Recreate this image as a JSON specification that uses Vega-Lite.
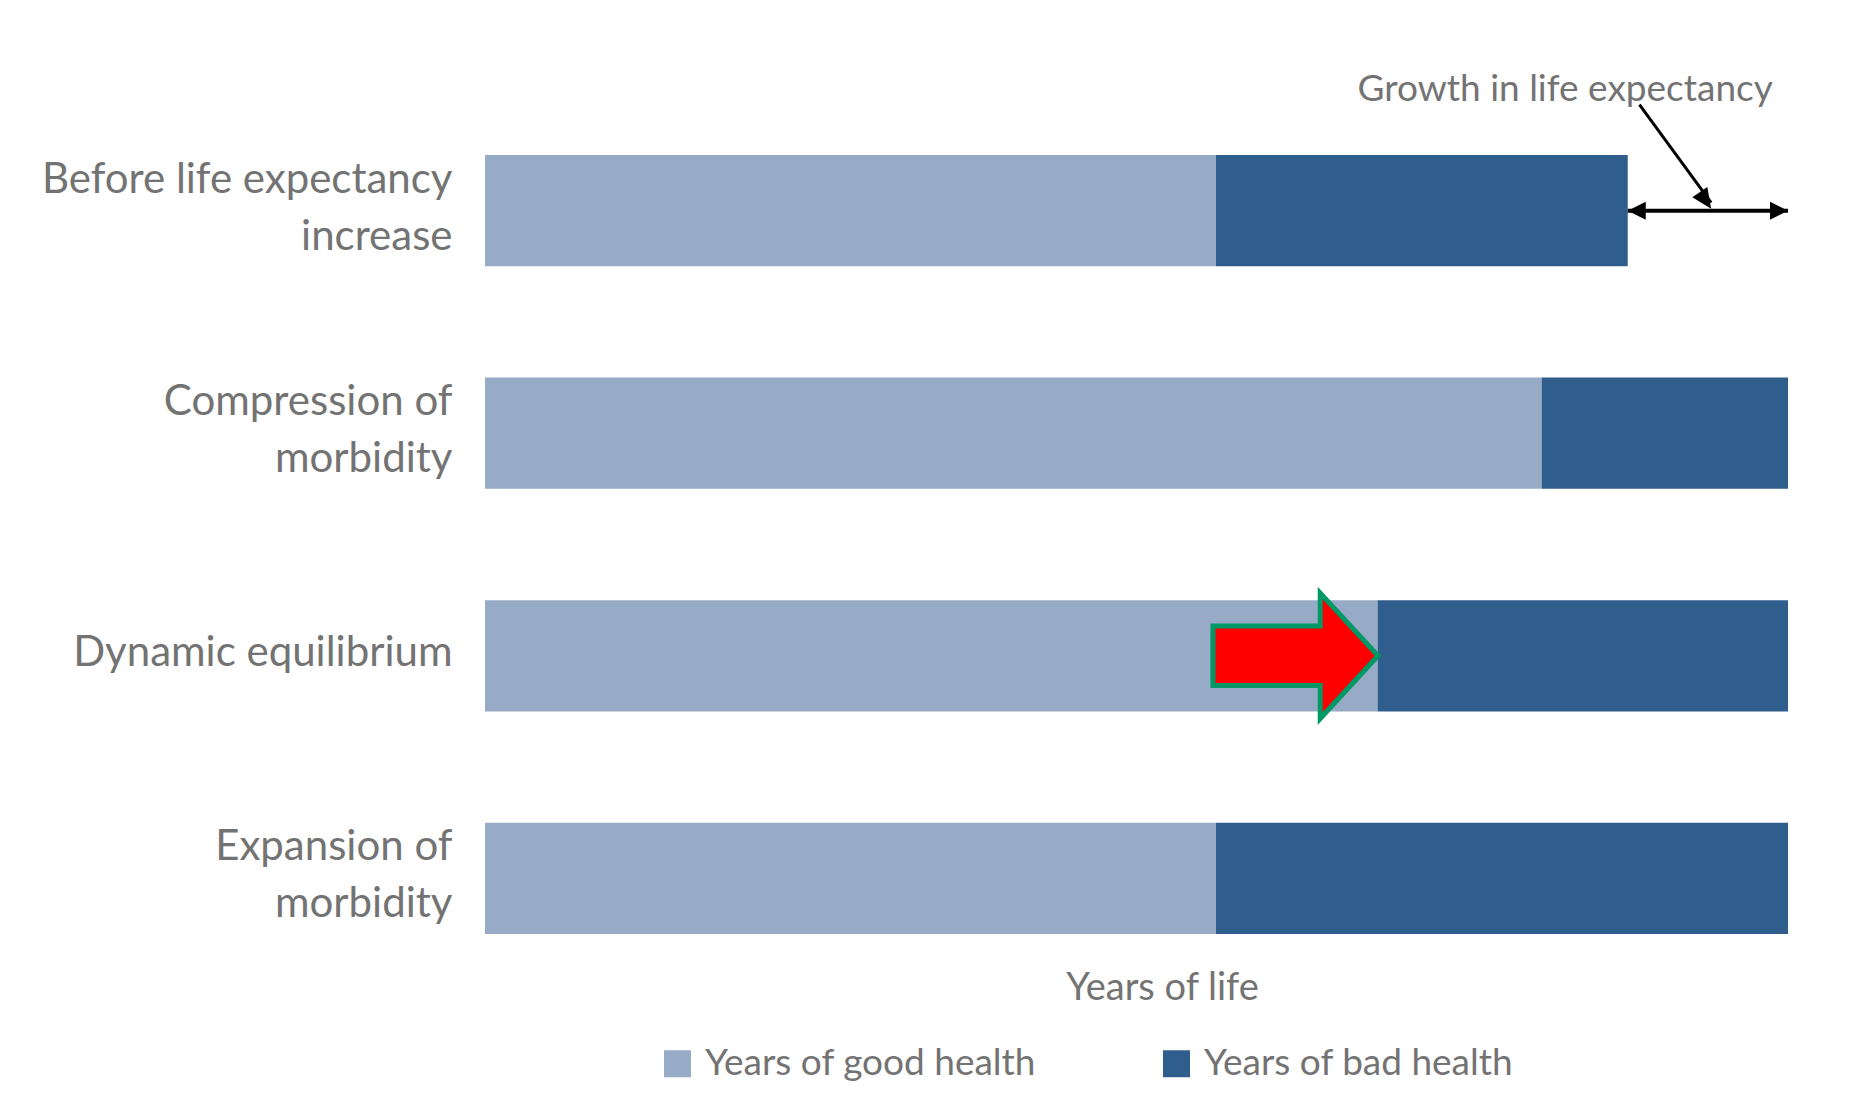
{
  "$schema": "https://vega.github.io/schema/vega-lite/v6.json",
  "autosize": "none",
  "width": 1303,
  "height": 779,
  "padding": {"left": 485, "top": 155, "right": 86, "bottom": 178},
  "background": "white",
  "config": {
    "view": {"stroke": null},
    "font": "Lato",
    "text": {"font": "Lato"}
  },
  "datasets": {
    "bars": [
      {"scenario": "Before life expectancy increase", "health": "Years of good health", "years": 56.1},
      {"scenario": "Before life expectancy increase", "health": "Years of bad health", "years": 31.6},
      {"scenario": "Compression of morbidity", "health": "Years of good health", "years": 81.1},
      {"scenario": "Compression of morbidity", "health": "Years of bad health", "years": 18.9},
      {"scenario": "Dynamic equilibrium", "health": "Years of good health", "years": 68.5},
      {"scenario": "Dynamic equilibrium", "health": "Years of bad health", "years": 31.5},
      {"scenario": "Expansion of morbidity", "health": "Years of good health", "years": 56.1},
      {"scenario": "Expansion of morbidity", "health": "Years of bad health", "years": 43.9}
    ],
    "growth": [
      {"scenario": "Before life expectancy increase", "from": 87.7, "to": 100, "label": "Growth in life expectancy", "labelAt": 82.9, "pointerStart": 88.6, "pointerEnd": 94.1}
    ],
    "shift": [
      {"scenario": "Dynamic equilibrium", "at": 62.2}
    ]
  },
  "layer": [
    {
      "data": {"name": "bars"},
      "mark": {"type": "bar", "opacity": 1},
      "encoding": {
        "y": {
          "field": "scenario", "type": "nominal",
          "sort": ["Before life expectancy increase", "Compression of morbidity", "Dynamic equilibrium", "Expansion of morbidity"],
          "scale": {"paddingInner": 0.5, "paddingOuter": 0},
          "axis": {
            "title": null, "domain": false, "ticks": false, "grid": false,
            "labelFontSize": 42, "labelColor": "#737373", "labelFont": "Lato",
            "labelLineHeight": 57, "labelPadding": 33, "labelLimit": 700,
            "labelOffset": {"condition": {"test": "datum.value == 'Dynamic equilibrium'", "value": -3}, "value": -31},
            "labelExpr": "datum.value == 'Before life expectancy increase' ? ['Before life expectancy', 'increase'] : datum.value == 'Compression of morbidity' ? ['Compression of', 'morbidity'] : datum.value == 'Expansion of morbidity' ? ['Expansion of', 'morbidity'] : datum.value"
          }
        },
        "x": {
          "field": "years", "type": "quantitative", "stack": "zero",
          "scale": {"domain": [0, 100], "nice": false},
          "axis": {
            "title": "Years of life", "labels": false, "ticks": false, "domain": false, "grid": false,
            "titleFontSize": 38, "titleFontWeight": "normal", "titleColor": "#737373", "titleFont": "Lato",
            "titlePadding": 35, "titleX": 677
          }
        },
        "order": {"field": "health", "sort": "descending"},
        "color": {
          "field": "health", "type": "nominal",
          "sort": ["Years of good health", "Years of bad health"],
          "scale": {"domain": ["Years of good health", "Years of bad health"], "range": ["#97abc6", "#2f5d8c"]},
          "legend": {
            "title": null, "orient": "none", "direction": "horizontal",
            "legendX": 174, "legendY": 890,
            "symbolType": "square", "symbolSize": 729, "symbolStrokeWidth": 0, "symbolOpacity": 1,
            "labelFontSize": 37, "labelColor": "#737373", "labelFont": "Lato", "labelOffset": 9,
            "columnPadding": 121, "labelLimit": 600
          }
        }
      }
    },
    {
      "data": {"name": "growth"},
      "mark": {"type": "rule", "color": "black", "strokeWidth": 4},
      "encoding": {
        "y": {"field": "scenario", "type": "nominal"},
        "x": {"field": "from", "type": "quantitative"},
        "x2": {"field": "to"}
      }
    },
    {
      "data": {"name": "growth"},
      "mark": {"type": "point", "shape": "M0,0L1,-0.5L1,0.5Z", "size": 1296, "fill": "black", "filled": true, "strokeWidth": 0, "opacity": 1},
      "encoding": {
        "y": {"field": "scenario", "type": "nominal"},
        "x": {"field": "from", "type": "quantitative"}
      }
    },
    {
      "data": {"name": "growth"},
      "mark": {"type": "point", "shape": "M0,0L-1,-0.5L-1,0.5Z", "size": 1296, "fill": "black", "filled": true, "strokeWidth": 0, "opacity": 1},
      "encoding": {
        "y": {"field": "scenario", "type": "nominal"},
        "x": {"field": "to", "type": "quantitative"}
      }
    },
    {
      "data": {"name": "growth"},
      "mark": {"type": "rule", "color": "black", "strokeWidth": 3, "yOffset": -106, "y2Offset": -8},
      "encoding": {
        "y": {"field": "scenario", "type": "nominal"},
        "y2": {"field": "scenario"},
        "x": {"field": "pointerStart", "type": "quantitative"},
        "x2": {"field": "pointerEnd"}
      }
    },
    {
      "data": {"name": "growth"},
      "mark": {"type": "point", "shape": "M0,0L-0.19,-1.08L-0.94,-0.57Z", "size": 1600, "fill": "black", "filled": true, "strokeWidth": 0, "opacity": 1, "yOffset": -2},
      "encoding": {
        "y": {"field": "scenario", "type": "nominal"},
        "x": {"field": "pointerEnd", "type": "quantitative"}
      }
    },
    {
      "data": {"name": "growth"},
      "mark": {"type": "text", "fontSize": 37, "color": "#737373", "align": "center", "baseline": "middle", "dy": -121, "font": "Lato"},
      "encoding": {
        "y": {"field": "scenario", "type": "nominal"},
        "x": {"field": "labelAt", "type": "quantitative"},
        "text": {"field": "label"}
      }
    },
    {
      "data": {"name": "shift"},
      "mark": {"type": "point", "shape": "M-1,-0.36L0.3,-0.36L0.3,-0.76L1,0L0.3,0.76L0.3,0.36L-1,0.36Z", "size": 27225, "fill": "#ff0000", "stroke": "#009966", "strokeWidth": 5, "filled": true, "opacity": 1, "strokeJoin": "miter"},
      "encoding": {
        "y": {"field": "scenario", "type": "nominal"},
        "x": {"field": "at", "type": "quantitative"}
      }
    }
  ]
}
